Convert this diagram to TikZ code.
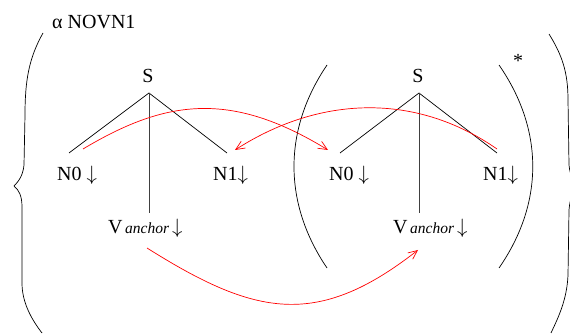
\documentclass[tikz,border=0pt]{standalone}
\usepackage{fontspec}
\setmainfont{Liberation Serif}
\usetikzlibrary{arrows.meta}
\tikzset{
  lbl/.style={inner sep=0pt, font=\fontsize{20}{24}\selectfont, anchor=base west},
  treeline/.style={line width=0.7pt, black},
  vline/.style={line width=0.9pt, black!75},
  redarrow/.style={red, line width=0.7pt, -{Straight Barb[length=9pt,width=8pt]}},
  curve/.style={line width=0.7pt, black}
}
\newcommand{\anc}{\hspace{2.5pt}{\fontsize{15.5}{16}\selectfont\itshape anchor}\hspace{3pt}$\downarrow$}
\begin{document}
\begin{tikzpicture}[x=1pt,y=-1pt]
\useasboundingbox (0,0) rectangle (570,336);
\clip (0,0) rectangle (570,336);
% title
\node[lbl] (title) at (52,29) {α NOVN1};
% tree 1
\node[lbl, anchor=base] (s1) at (148,83) {S};
\node[lbl] (n01) at (57,181) {N0 $\downarrow$};
\node[lbl] (n11) at (213,181) {N1$\downarrow$};
\node[lbl] (v1) at (108,234) {V\anc};
\coordinate (a1) at (149,93);
\coordinate (l1) at (69,153);
\coordinate (r1) at (227,153);
\coordinate (b1) at (149,213);
\draw[treeline] (l1) -- (a1) -- (r1);
\draw[vline] (a1) -- (b1);
% tree 2
\node[lbl, anchor=base] (s2) at (418,83) {S};
\node[lbl] (n02) at (329,181) {N0 $\downarrow$};
\node[lbl] (n12) at (483,181) {N1$\downarrow$};
\node[lbl] (v2) at (393,234) {V\anc};
\coordinate (a2) at (419,93);
\coordinate (l2) at (340,153);
\coordinate (r2) at (497,153);
\coordinate (b2) at (419,213);
\draw[treeline] (l2) -- (a2) -- (r2);
\draw[vline] (a2) -- (b2);
% parentheses
\coordinate (pl1) at (327,65);
\coordinate (pl2) at (327,268);
\coordinate (pr1) at (499,65);
\coordinate (pr2) at (499,268);
\draw[curve] (pl1) .. controls (283,130) and (283,203) .. (pl2);
\draw[curve] (pr1) .. controls (544,130) and (544,203) .. (pr2);
\node[lbl, anchor=base] (star) at (518,68) {*};
% braces
\draw[curve] (43,33) .. controls (29,58) and (25,80) .. (25,115) -- (24,165)
  .. controls (23,176) and (18,182) .. (14,186)
  .. controls (19,190) and (22,196) .. (22,207) -- (22,283)
  .. controls (22,303) and (32,320) .. (42,333);
\draw[curve] (549,34) .. controls (562,55) and (568,72) .. (568,100) -- (569,165)
  .. controls (570,176) and (574,182) .. (578,186)
  .. controls (574,190) and (570,197) .. (569,210) -- (568,275)
  .. controls (567,300) and (558,318) .. (551,333);
% red arrows
\coordinate (ra1s) at (83,149);
\coordinate (ra1e) at (328,150);
\coordinate (ra2s) at (497,149);
\coordinate (ra2e) at (235,150);
\coordinate (ra3s) at (147,248);
\coordinate (ra3e) at (418,250);
\draw[redarrow] (ra1s) .. controls (165,100) and (230,90) .. (ra1e);
\draw[redarrow] (ra2s) .. controls (415,92) and (319,96) .. (ra2e);
\draw[redarrow] (ra3s) .. controls (255,316) and (317,329) .. (ra3e);
\end{tikzpicture}
\end{document}
